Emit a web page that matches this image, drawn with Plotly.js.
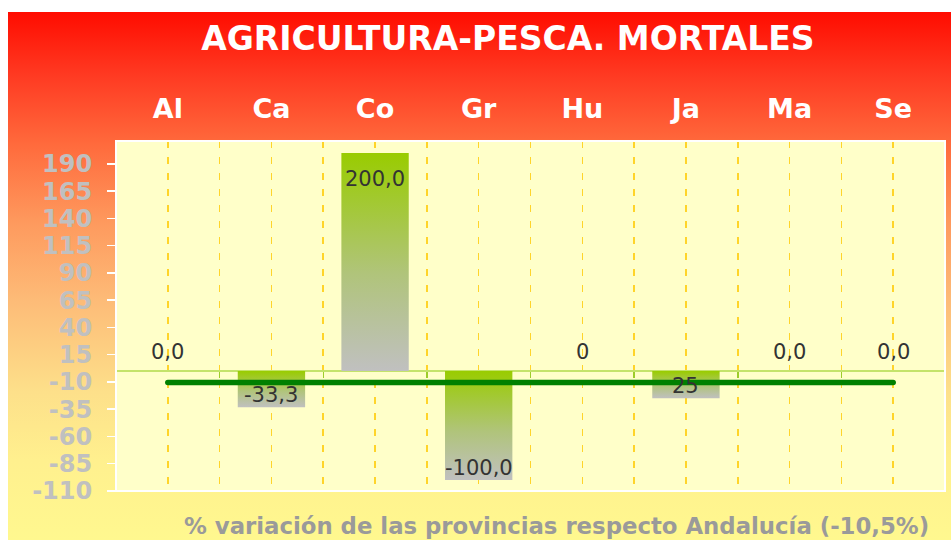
<!DOCTYPE html>
<html>
<head>
<meta charset="utf-8">
<script src="https://cdn.plot.ly/plotly-3.0.1.min.js"></script>
<style>
  html, body { margin:0; padding:0; background:#ffffff; }
  #bg { position:absolute; left:8px; top:12px; width:943px; height:528px;
        background: linear-gradient(to bottom, #ff0c00 0%, #ff3a22 12%, #ff6a3c 25%, #fe9a5e 40%, #fdbc78 55%, #fde08a 72%, #fff08e 85%, #fff88f 100%); }
  #chart { position:absolute; left:0; top:0; width:951px; height:540px; }
</style>
</head>
<body>
<div id="bg"></div>
<div id="chart"></div>
<script>
// ---- data ----
const categories = ['Al', 'Ca', 'Co', 'Gr', 'Hu', 'Ja', 'Ma', 'Se'];
const values = [0, -33.3, 200, -100, 0, -25, 0, 0];
const valueLabels = ['0,0', '-33,3', '200,0', '-100,0', '0', '25', '0,0', '0,0'];
const andaluciaAvg = -10.5;
const yRange = [-110, 211];
const yTickVals = [-110, -85, -60, -35, -10, 15, 40, 65, 90, 115, 140, 165, 190];
const yTickText = ['-110', '-85', '-60', '-35', '-10', '15', '40', '65', '90', '115', '140', '165', '190'];
const chartTitle = 'AGRICULTURA-PESCA. MORTALES';
const footNote = '% variación de las provincias respecto Andalucía (-10,5%)';

const FONT = 'DejaVu Sans, Verdana, sans-serif';
const n = categories.length;
const boundaries = [];
for (let i = 0; i <= n; i++) boundaries.push(i - 0.5);

const bars = {
  type: 'bar', x: categories, y: values,
  marker: { color: '#a8c840', line: { width: 0 } },
  hoverinfo: 'skip', showlegend: false
};
const avgLine = {
  type: 'scatter', mode: 'lines', x: categories, y: categories.map(() => andaluciaAvg),
  line: { color: '#008000', width: 5.5 }, hoverinfo: 'skip', showlegend: false
};
const helper = {
  type: 'scatter', mode: 'lines', x: [boundaries[0], boundaries[n]], y: [null, null],
  xaxis: 'x2', line: { width: 0 }, hoverinfo: 'skip', showlegend: false
};

const labelAnn = categories.map((c, i) => ({
  x: c, y: values[i], xref: 'x', yref: 'y', text: valueLabels[i], showarrow: false,
  yshift: values[i] === 0 ? 19 : (values[i] > 0 ? -26 : 12),
  font: { family: FONT, size: 21, color: '#333333' }
}));

const zeroPos = (0 - yRange[0]) / (yRange[1] - yRange[0]);

const layout = {
  width: 951, height: 540,
  margin: { l: 116, r: 6, t: 141, b: 49, autoexpand: false },
  paper_bgcolor: 'rgba(0,0,0,0)', plot_bgcolor: '#ffffc9',
  bargap: 0.35,
  title: { text: chartTitle, x: 0.534, xanchor: 'center', y: 1 - 38 / 540, yanchor: 'middle',
           font: { family: FONT, size: 33, color: '#ffffff', weight: 700 } },
  xaxis: {
    type: 'category', side: 'top', ticks: '', showline: false,
    showgrid: true, gridcolor: '#ffd42a', gridwidth: 1.6, griddash: '7px,9px',
    tickfont: { family: FONT, size: 27, color: '#ffffff', weight: 700 },
    ticklabelstandoff: 17, fixedrange: true
  },
  xaxis2: {
    overlaying: 'x', anchor: 'free', position: zeroPos, side: 'bottom',
    range: [boundaries[0], boundaries[n]], tickvals: boundaries, showticklabels: false,
    ticks: 'outside', ticklen: 6, tickwidth: 1.5, tickcolor: '#9ccc2a',
    showgrid: true, gridcolor: '#ffd42a', gridwidth: 1.6, griddash: '7px,9px',
    showline: false, zeroline: false, fixedrange: true
  },
  yaxis: {
    range: yRange, tickmode: 'array', tickvals: yTickVals, ticktext: yTickText,
    ticks: 'outside', ticklen: 8,
    tickwidth: 1.5, tickcolor: '#ffffff', showgrid: false,
    zeroline: true, zerolinecolor: '#c4e36a', zerolinewidth: 2,
    tickfont: { family: FONT, size: 24, color: '#c0c0c0', weight: 700 },
    ticklabelstandoff: 10, fixedrange: true
  },
  shapes: [{ type: 'rect', xref: 'paper', yref: 'paper', x0: 0, x1: 1, y0: 0, y1: 1,
             line: { color: '#ffffff', width: 2 }, layer: 'above' }],
  annotations: labelAnn.concat([{
    xref: 'paper', yref: 'paper', x: 66 / 829, y: -0.1, xanchor: 'left', yanchor: 'middle',
    text: footNote, showarrow: false,
    font: { family: FONT, size: 22.8, color: '#9a9a9a', weight: 700 }
  }])
};

Plotly.newPlot('chart', [bars, avgLine, helper], layout, { staticPlot: true, displayModeBar: false })
.then(gd => {
  const svg = gd.querySelector('svg.main-svg');
  const NS = 'http://www.w3.org/2000/svg';
  let defs = svg.querySelector('defs');
  if (!defs) { defs = document.createElementNS(NS, 'defs'); svg.insertBefore(defs, svg.firstChild); }
  const grad = document.createElementNS(NS, 'linearGradient');
  grad.setAttribute('id', 'barGrad');
  grad.setAttribute('x1', '0'); grad.setAttribute('y1', '0');
  grad.setAttribute('x2', '0'); grad.setAttribute('y2', '1');
  [['0', '#99cc00'], ['0.55', '#b0c47a'], ['1', '#c0c0c0']].forEach(([o, c]) => {
    const s = document.createElementNS(NS, 'stop');
    s.setAttribute('offset', o); s.setAttribute('stop-color', c);
    grad.appendChild(s);
  });
  defs.appendChild(grad);
  gd.querySelectorAll('.trace.bars .point path').forEach(p => { p.style.fill = 'url(#barGrad)'; });
  gd.querySelectorAll('.scatterlayer .js-line').forEach(p => { p.style.strokeLinecap = 'round'; });
});
</script>
</body>
</html>
